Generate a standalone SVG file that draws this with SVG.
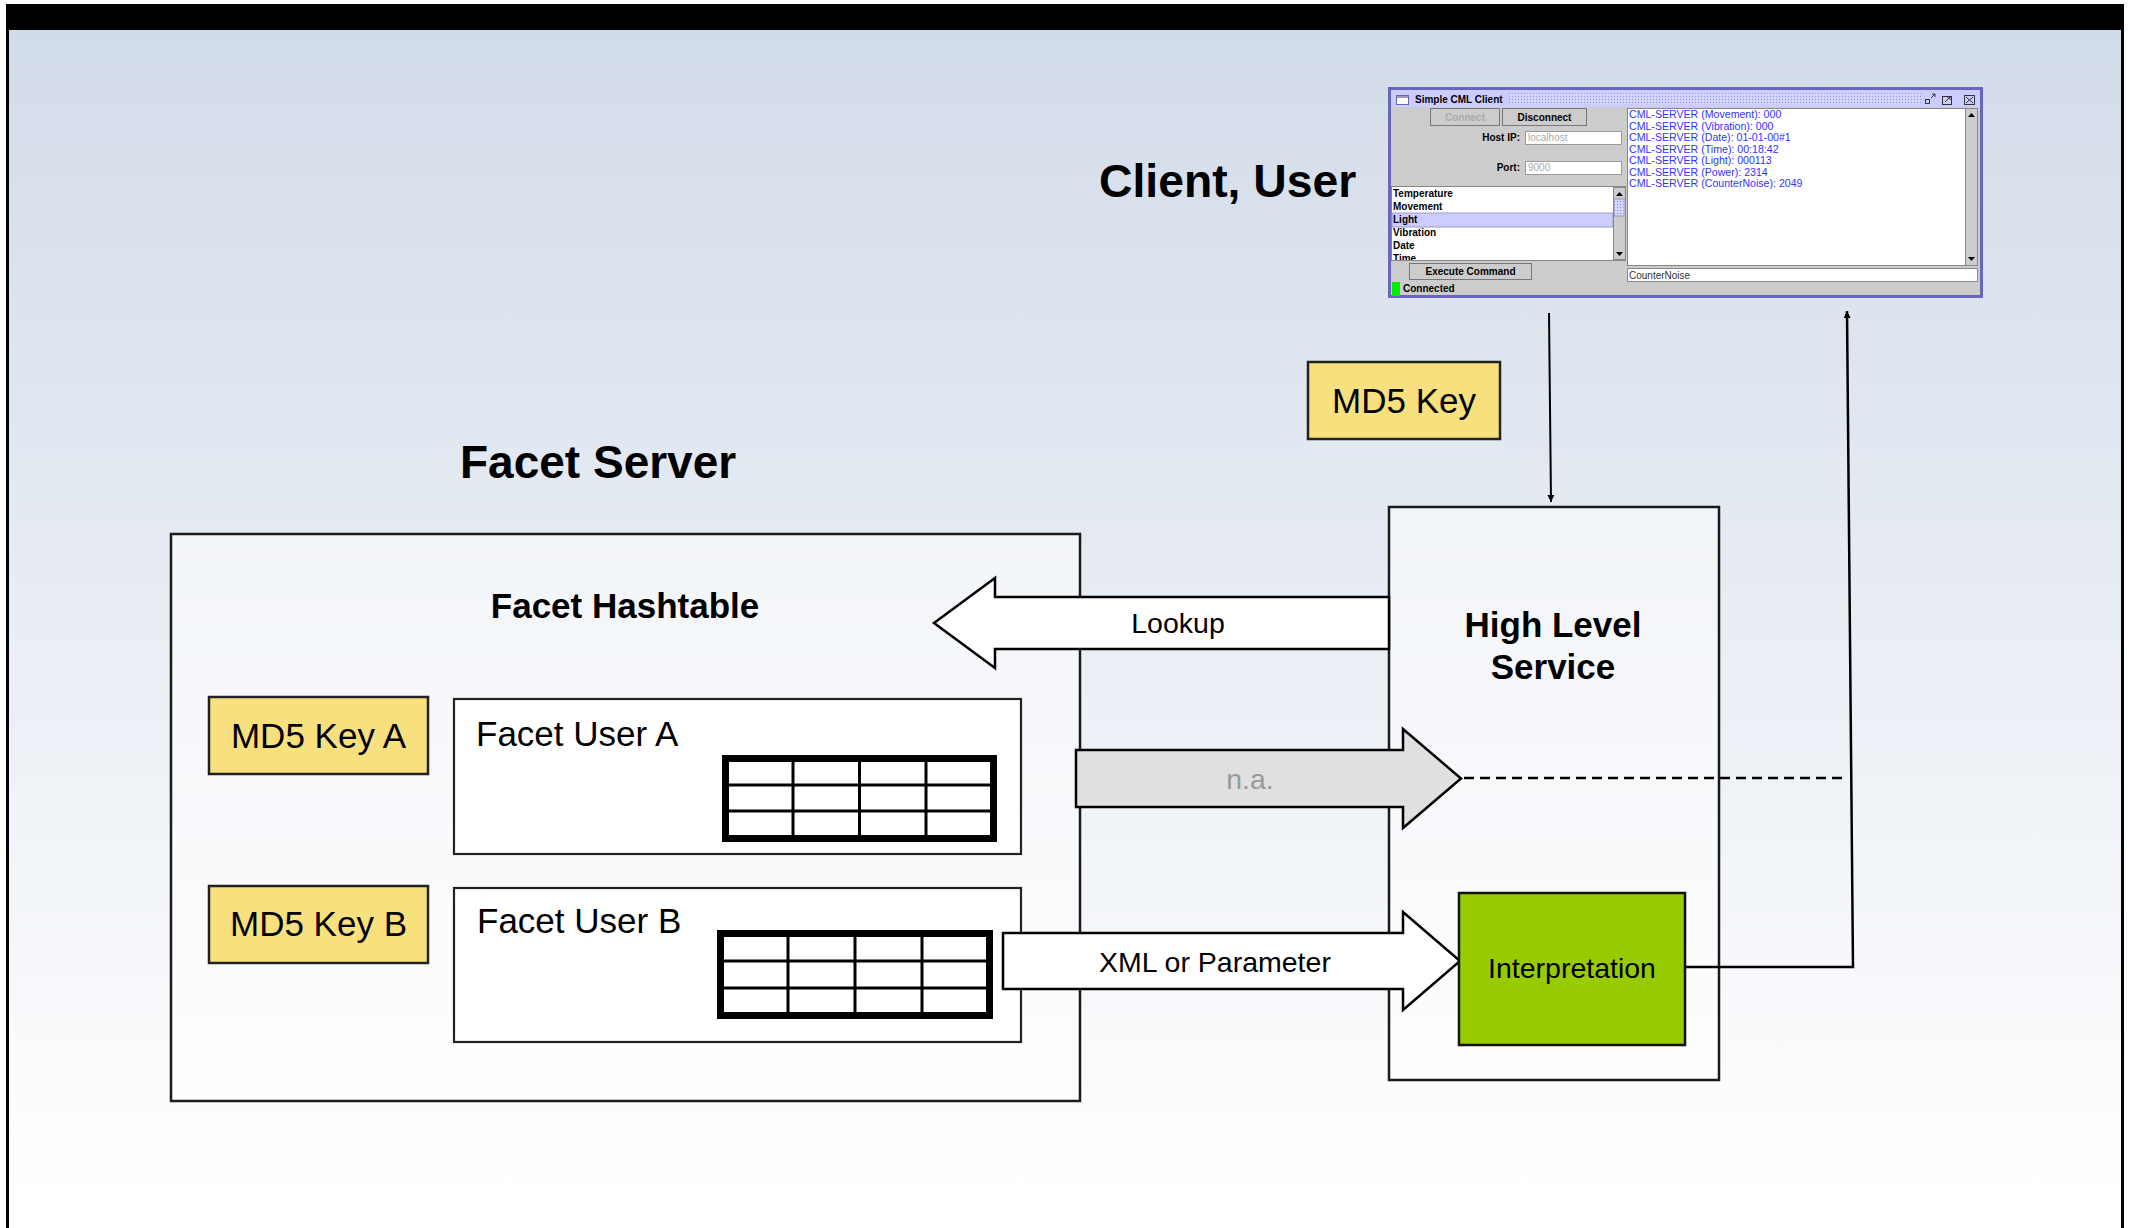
<svg xmlns="http://www.w3.org/2000/svg" width="2132" height="1228" viewBox="0 0 2132 1228">
<defs>
  <linearGradient id="bg" x1="0" y1="30" x2="0" y2="1200" gradientUnits="userSpaceOnUse">
    <stop offset="0" stop-color="#d2dbe9"/>
    <stop offset="1" stop-color="#ffffff"/>
  </linearGradient>
  <pattern id="dots" width="3" height="3" patternUnits="userSpaceOnUse">
    <rect width="3" height="3" fill="#ccccff"/>
    <rect width="1" height="1" fill="#9a9ad0"/>
    <rect x="1.5" y="1.5" width="1" height="1" fill="#ffffff"/>
  </pattern>
  <clipPath id="listclip"><rect x="1392" y="187" width="221" height="73"/></clipPath>
  <marker id="ah" viewBox="0 0 10 10" refX="10" refY="5" markerWidth="7" markerHeight="7" markerUnits="userSpaceOnUse" orient="auto">
    <path d="M0,0 L10,5 L0,10 z" fill="#000"/>
  </marker>
  <style>
    .t{font-family:"Liberation Sans",Arial,sans-serif;}
    .title{font-family:"Liberation Sans",Arial,sans-serif;font-weight:bold;fill:#000;}
    .lbl{font-family:"Liberation Sans",Arial,sans-serif;font-size:28.5px;fill:#000;}
    .key{fill:#f8e07f;stroke:#222;stroke-width:2.5;}
    .keytxt{font-family:"Liberation Sans",Arial,sans-serif;font-size:35px;fill:#000;}
    .box{fill:#ffffff;fill-opacity:0.5;stroke:#1a1a1a;stroke-width:2.5;}
    .user{fill:#ffffff;stroke:#222;stroke-width:2.2;}
    .tbl{fill:#ffffff;stroke:#000;stroke-width:7;}
    .grid{stroke:#000;stroke-width:3;}
    .arr{stroke:#000;stroke-width:2.5;stroke-linejoin:miter;}
    .ui{font-family:"Liberation Sans",Arial,sans-serif;font-size:10px;}
    .uib{font-family:"Liberation Sans",Arial,sans-serif;font-size:10px;font-weight:bold;fill:#000;}
    .out{font-family:"Liberation Sans",Arial,sans-serif;font-size:10.6px;fill:#3333ff;}
    .btn{fill:#cccccc;stroke:#777;stroke-width:1;}
    .fld{fill:#ffffff;stroke:#999;stroke-width:1;}
  </style>
</defs>

<!-- page frame -->
<rect x="0" y="0" width="2132" height="1228" fill="#ffffff"/>
<rect x="9" y="30" width="2112" height="1198" fill="url(#bg)"/>
<rect x="6" y="4" width="2118" height="26" fill="#000"/>
<rect x="6" y="4" width="3" height="1224" fill="#000"/>
<rect x="2121" y="4" width="3" height="1224" fill="#000"/>

<!-- titles -->
<text class="title" x="1099" y="197" font-size="46.3">Client, User</text>
<text class="title" x="460" y="478" font-size="46">Facet Server</text>

<!-- client window -->
<g id="client-window">
  <rect x="1389.5" y="88.5" width="592" height="208" fill="#cccccc" stroke="#6666bb" stroke-width="3"/>
  <rect x="1391" y="90" width="589" height="17" fill="#ccccff"/>
  <rect x="1509" y="93" width="412" height="11" fill="url(#dots)"/>
  <rect x="1396.5" y="95.5" width="12" height="9" fill="#ffffff" stroke="#6666aa" stroke-width="1"/>
  <rect x="1397" y="96" width="11" height="2" fill="#9999cc"/>
  <text class="uib" x="1415" y="103" font-size="10">Simple CML Client</text>
  <g fill="none" stroke="#333" stroke-width="1">
    <rect x="1925.5" y="99.5" width="4" height="4"/>
    <path d="M1931,98 L1935,94 M1932,94 L1935,94 L1935,97"/>
    <rect x="1942.5" y="96.5" width="9" height="8"/>
    <path d="M1945,102 L1950,97 M1947,97 L1950,97 L1950,100"/>
    <rect x="1964.5" y="95.5" width="10" height="9"/>
    <path d="M1966,97 L1973,103 M1973,97 L1966,103"/>
  </g>
  <!-- buttons -->
  <rect class="btn" x="1430.5" y="108.5" width="69" height="17" stroke="#aaa"/>
  <text class="uib" x="1465" y="121" text-anchor="middle" style="fill:#aaaaaa">Connect</text>
  <rect class="btn" x="1502.5" y="108.5" width="84" height="17" stroke="#555"/>
  <text class="uib" x="1544.5" y="121" text-anchor="middle">Disconnect</text>
  <text class="uib" x="1520" y="141" text-anchor="end">Host IP:</text>
  <rect class="fld" x="1525.5" y="131.5" width="96" height="13"/>
  <text class="ui" x="1528" y="141" fill="#aaaaaa">localhost</text>
  <text class="uib" x="1520" y="171" text-anchor="end">Port:</text>
  <rect class="fld" x="1525.5" y="161.5" width="96" height="13"/>
  <text class="ui" x="1528" y="171" fill="#aaaaaa">9000</text>
  <!-- list -->
  <rect x="1391.5" y="186.5" width="234" height="74" fill="#ffffff" stroke="#888" stroke-width="1"/>
  <rect x="1392" y="213" width="221" height="14" fill="#ccccff" stroke="#9999cc" stroke-width="1"/>
  <g clip-path="url(#listclip)">
    <text class="uib" x="1393" y="197">Temperature</text>
    <text class="uib" x="1393" y="210">Movement</text>
    <text class="uib" x="1393" y="223">Light</text>
    <text class="uib" x="1393" y="236">Vibration</text>
    <text class="uib" x="1393" y="249">Date</text>
    <text class="uib" x="1393" y="262">Time</text>
  </g>
  <rect x="1613.5" y="187.5" width="12" height="72" fill="#cccccc" stroke="#888" stroke-width="1"/>
  <rect x="1614" y="199" width="11" height="17" fill="url(#dots)" stroke="#8888aa" stroke-width="0.8"/>
  <path d="M1616,196 L1619.5,192 L1623,196 z" fill="#000"/>
  <path d="M1616,252 L1619.5,256 L1623,252 z" fill="#000"/>
  <!-- execute -->
  <rect class="btn" x="1409.5" y="263.5" width="122" height="16" stroke="#555"/>
  <text class="uib" x="1470.5" y="275" text-anchor="middle">Execute Command</text>
  <rect x="1392" y="282" width="8" height="14" fill="#00ee00"/>
  <text class="uib" x="1403" y="292">Connected</text>
  <!-- output area -->
  <rect x="1627.5" y="108.5" width="350" height="157" fill="#ffffff" stroke="#888" stroke-width="1"/>
  <rect x="1965.5" y="108.5" width="12" height="157" fill="#cccccc" stroke="#888" stroke-width="1"/>
  <path d="M1968,117 L1971.5,113 L1975,117 z" fill="#000"/>
  <path d="M1968,257 L1971.5,261 L1975,257 z" fill="#000"/>
  <text class="out" x="1629" y="118">CML-SERVER (Movement): 000</text>
  <text class="out" x="1629" y="129.5">CML-SERVER (Vibration): 000</text>
  <text class="out" x="1629" y="141">CML-SERVER (Date): 01-01-00#1</text>
  <text class="out" x="1629" y="152.5">CML-SERVER (Time): 00:18:42</text>
  <text class="out" x="1629" y="164">CML-SERVER (Light): 000113</text>
  <text class="out" x="1629" y="175.5">CML-SERVER (Power): 2314</text>
  <text class="out" x="1629" y="187">CML-SERVER (CounterNoise): 2049</text>
  <rect x="1627.5" y="268.5" width="350" height="13" fill="#ffffff" stroke="#888" stroke-width="1"/>
  <text class="ui" x="1629" y="279" fill="#333">CounterNoise</text>
</g>

<!-- MD5 Key -->
<g id="md5-key">
  <rect class="key" x="1308" y="362" width="192" height="77"/>
  <text class="keytxt" x="1404" y="413" text-anchor="middle">MD5 Key</text>
</g>

<!-- Facet Server -->
<g id="facet-server">
  <rect class="box" x="171" y="534" width="909" height="567"/>
  <text class="title" x="625" y="618" font-size="35" text-anchor="middle">Facet Hashtable</text>
</g>

<g id="md5-key-a">
  <rect class="key" x="209" y="697" width="219" height="77"/>
  <text class="keytxt" x="318.5" y="748" text-anchor="middle">MD5 Key A</text>
</g>
<g id="md5-key-b">
  <rect class="key" x="209" y="886" width="219" height="77"/>
  <text class="keytxt" x="318.5" y="936" text-anchor="middle">MD5 Key B</text>
</g>

<g id="facet-user-a">
  <rect class="user" x="454" y="699" width="567" height="155"/>
  <text class="keytxt" x="476" y="746">Facet User A</text>
  <rect class="tbl" x="725.5" y="758.5" width="268" height="80"/>
  <path class="grid" d="M793,762 V835 M859.5,762 V835 M926,762 V835 M729,785 H990 M729,811 H990"/>
</g>
<g id="facet-user-b">
  <rect class="user" x="454" y="888" width="567" height="154"/>
  <text class="keytxt" x="477" y="933">Facet User B</text>
  <rect class="tbl" x="720.5" y="933.5" width="269" height="82"/>
  <path class="grid" d="M788,937 V1012 M855,937 V1012 M922,937 V1012 M724,961 H986 M724,988 H986"/>
</g>

<!-- High Level Service -->
<g id="high-level-service">
  <rect class="box" x="1389" y="507" width="330" height="573"/>
  <text class="title" x="1553" y="637" font-size="35" text-anchor="middle">High Level</text>
  <text class="title" x="1553" y="679" font-size="35" text-anchor="middle">Service</text>
</g>

<!-- connectors -->
<g id="connectors">
  <g id="lookup-arrow">
    <polygon class="arr" fill="#ffffff" points="1389,597 995,597 995,578 934,623 995,668 995,649 1389,649"/>
    <text class="lbl" x="1178" y="633" text-anchor="middle">Lookup</text>
  </g>
  <g id="na-arrow">
    <polygon class="arr" fill="#e0e0e0" points="1076,750 1403,750 1403,729 1461,778.5 1403,828 1403,807 1076,807"/>
    <text class="lbl" x="1250" y="789" text-anchor="middle" style="fill:#999999">n.a.</text>
  </g>
  <g id="xml-arrow">
    <polygon class="arr" fill="#ffffff" points="1003,933 1403,933 1403,912 1460,961 1403,1010 1403,989 1003,989"/>
    <text class="lbl" x="1215" y="972" text-anchor="middle">XML or Parameter</text>
  </g>
  <line x1="1464" y1="778" x2="1846" y2="778" stroke="#000" stroke-width="2.5" stroke-dasharray="10,6"/>
  <line x1="1549" y1="313" x2="1551" y2="502" stroke="#000" stroke-width="2" marker-end="url(#ah)"/>
  <polyline points="1685,967 1853,967 1847,311" fill="none" stroke="#000" stroke-width="2.5" marker-end="url(#ah)"/>
</g>

<!-- Interpretation -->
<g id="interpretation">
  <rect x="1459" y="893" width="226" height="152" fill="#99cc00" stroke="#111" stroke-width="2.5"/>
  <text class="lbl" x="1572" y="978" text-anchor="middle">Interpretation</text>
</g>
</svg>
